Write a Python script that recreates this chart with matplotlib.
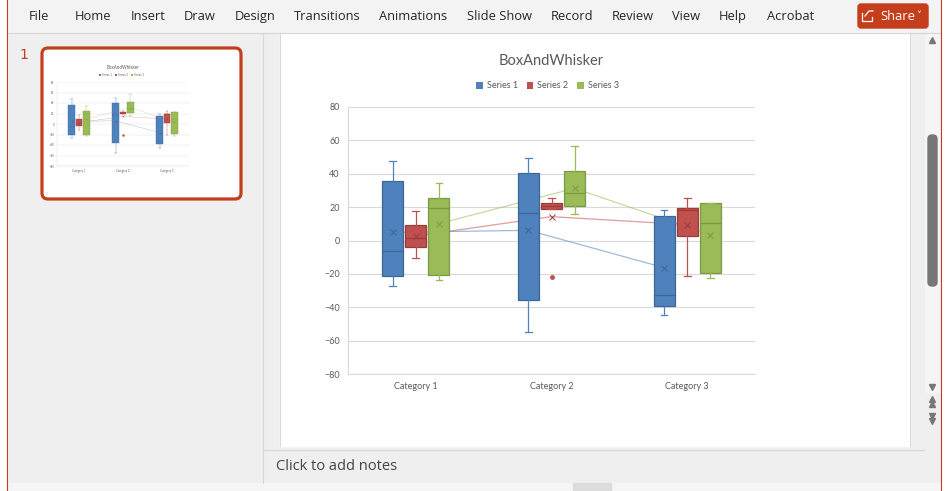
import numpy as np
import matplotlib
matplotlib.use("Agg")
import matplotlib.pyplot as plt
from matplotlib.patches import Rectangle, FancyBboxPatch, Patch

W, H = 949, 491

# chart data
categories = ["Category 1", "Category 2", "Category 3"]
series_names = ["Series 1", "Series 2", "Series 3"]
whislo = [[-27.3, -55.0, -44.8], [-10.7, 18.7, -21.4], [-23.8, 15.7, -22.6]]
q1 = [[-21.3, -35.8, -39.0], [-4.1, 18.7, 2.5], [-20.9, 20.5, -19.5]]
med = [[-6.3, 16.5, -32.8], [1.5, 20.7, 18.5], [19.3, 28.5, 10.3]]
q3 = [[35.5, 40.3, 14.5], [9.1, 22.3, 19.3], [25.3, 41.5, 22.3]]
whishi = [[47.5, 49.2, 18.5], [17.5, 25.3, 25.3], [34.3, 56.4, 22.3]]
means = [[4.9, 6.1, -16.3], [2.7, 14.3, 9.5], [10.1, 31.3, 3.5]]
fliers = [[[], [], []], [[], [-21.7], []], [[], [], []]]
yticks = list(range(-80, 81, 20))

menu = ["File", "Home", "Insert", "Draw", "Design", "Transitions", "Animations",
        "Slide Show", "Record", "Review", "View", "Help", "Acrobat"]
menu_x = [39, 93, 148, 200, 255, 327, 413, 500, 572, 633, 686, 733, 791]

fills = ["#4F81BD", "#C0504D", "#9BBB59"]
darks = ["#3B6696", "#9A3B38", "#7A9A40"]
offsets = [-0.17, 0.0, 0.17]
grey = "#595959"
cfont = "Lato"


def rect(x0, y0, x1, y1):
    return [x0 / W, 1 - y1 / H, (x1 - x0) / W, (y1 - y0) / H]


def draw_chart(ax, s):
    for j in range(3):
        stats = []
        for i in range(3):
            stats.append(dict(whislo=whislo[j][i], q1=q1[j][i], med=med[j][i],
                              q3=q3[j][i], whishi=whishi[j][i], mean=means[j][i],
                              fliers=fliers[j][i]))
        pos = np.arange(3) + offsets[j]
        ax.bxp(stats, positions=pos, widths=0.155, patch_artist=True,
               showmeans=True, capwidths=0.05, manage_ticks=False,
               boxprops=dict(facecolor=fills[j], edgecolor=darks[j], lw=0.9 * s),
               medianprops=dict(color=darks[j], lw=0.9 * s),
               whiskerprops=dict(color=fills[j], lw=0.9 * s),
               capprops=dict(color=fills[j], lw=0.9 * s),
               meanprops=dict(marker="x", markeredgecolor=darks[j],
                              markersize=5 * s, markeredgewidth=0.7 * s),
               flierprops=dict(marker="o", markerfacecolor=fills[j],
                               markeredgecolor=fills[j], markersize=2.5 * s))
        # connect the means of each series
        ax.plot(pos, means[j], color=fills[j], alpha=0.55, lw=0.9 * s, zorder=1.5)

    ax.set_xlim(-0.5, 2.5)
    ax.set_ylim(-80, 80)
    ax.set_yticks(yticks)
    ax.set_xticks(range(3))
    ax.set_xticklabels(categories, fontfamily=cfont)
    ax.tick_params(length=0, colors=grey, labelsize=6.5 * s)
    ax.tick_params(axis="y", pad=6 * s)
    ax.tick_params(axis="x", pad=6 * s)
    for lab in ax.get_yticklabels():
        lab.set_fontfamily(cfont)
    ax.set_axisbelow(True)
    ax.yaxis.grid(True, color="#d9d9d9", lw=0.8 * s)
    for sp in ("top", "right"):
        ax.spines[sp].set_visible(False)
    for sp in ("left", "bottom"):
        ax.spines[sp].set_color("#d9d9d9")
        ax.spines[sp].set_linewidth(0.8 * s)
    ax.set_facecolor("white")
    ax.text(0.499, 1.172, "BoxAndWhisker", transform=ax.transAxes, ha="center",
            va="center", fontsize=10.5 * s, color=grey, fontfamily=cfont)
    handles = [Patch(facecolor=c, edgecolor="none", label=n)
               for c, n in zip(fills, series_names)]
    ax.legend(handles=handles, loc="center", bbox_to_anchor=(0.49, 1.079), ncol=3,
              frameon=False, prop=dict(family=cfont, size=6.5 * s),
              labelcolor=grey, handlelength=0.75, handleheight=0.75,
              handletextpad=0.4, columnspacing=1.0, borderpad=0)


fig = plt.figure(figsize=(W / 100, H / 100), dpi=100, facecolor="#f0f0f0")

# window chrome drawn in pixel coordinates
bg = fig.add_axes([0, 0, 1, 1])
bg.set_xlim(0, W)
bg.set_ylim(H, 0)
bg.axis("off")
bg.add_patch(Rectangle((0, 0), W, H, color="#efefef"))
bg.add_patch(Rectangle((0, 0), W, 32, color="#f3f3f3"))
bg.plot([8, 941], [32.5, 32.5], color="#d6d6d6", lw=0.8)
bg.add_patch(Rectangle((0, 0), 7, H, color="white"))
bg.add_patch(Rectangle((942, 0), 7, H, color="white"))
bg.plot([7, 7], [0, H], color="#c43e1c", lw=0.8)
bg.plot([941.5, 941.5], [0, H], color="#c43e1c", lw=0.8)

for t, x in zip(menu, menu_x):
    bg.text(x, 16, t, ha="center", va="center", fontsize=9.3, color="#262626",
            fontfamily="Open Sans")
bg.add_patch(FancyBboxPatch((858, 4), 70, 24, boxstyle="round,pad=0,rounding_size=3",
                            color="#c43e1c"))
bg.text(898, 16, "Share", ha="center", va="center", fontsize=9.3, color="white",
        fontfamily="Open Sans")
bg.text(919, 16, "\u02c5", ha="center", va="center", fontsize=7, color="white")
bg.plot([862, 862, 872, 872], [13, 21, 21, 17], color="white", lw=0.9)
bg.plot([865, 869, 873], [16, 11, 11], color="white", lw=0.9)

# left panel: slide thumbnail
bg.plot([263, 263], [33, 483], color="#d6d6d6", lw=0.8)
bg.text(24, 55, "1", ha="center", va="center", fontsize=10, color="#c43e1c")
bg.add_patch(FancyBboxPatch((42, 48), 199, 151, boxstyle="round,pad=0,rounding_size=6",
                            fc="white", ec="#c43e1c", lw=2.3))

# slide and notes pane
bg.add_patch(Rectangle((280, 33), 630, 413, color="white"))
bg.plot([280, 280], [33, 446], color="#d0d0d0", lw=0.6)
bg.plot([910, 910], [33, 446], color="#d0d0d0", lw=0.6)
bg.plot([264, 924], [449.5, 449.5], color="#d6d6d6", lw=0.8)
bg.text(276, 466, "Click to add notes", va="center", fontsize=10.5, color="#444444",
        fontfamily="Open Sans")
bg.add_patch(Rectangle((8, 483), 933, 8, color="#f5f5f5"))
bg.add_patch(Rectangle((573, 483), 38, 8, color="#dcdcdc"))

# scroll bar
bg.add_patch(Rectangle((925, 34), 14, 358, color="#f5f5f5"))
bg.add_patch(FancyBboxPatch((928, 135), 9, 151, boxstyle="round,pad=0,rounding_size=4",
                            color="#777777"))
bg.plot([932.5], [40], marker="^", color="#777777", ms=5)
bg.plot([932.5], [387], marker="v", color="#777777", ms=5)
bg.plot([932.5, 932.5], [399, 404], marker="^", ls="none", color="#777777", ms=4.5)
bg.plot([932.5, 932.5], [416, 421], marker="v", ls="none", color="#777777", ms=4.5)

# main chart
ax = fig.add_axes(rect(348, 107, 755, 374))
draw_chart(ax, 1.0)

# thumbnail copy
tax = fig.add_axes(rect(57, 82, 189, 166))
draw_chart(tax, 0.31)

fig.savefig("out.png", dpi=100, facecolor=fig.get_facecolor())
